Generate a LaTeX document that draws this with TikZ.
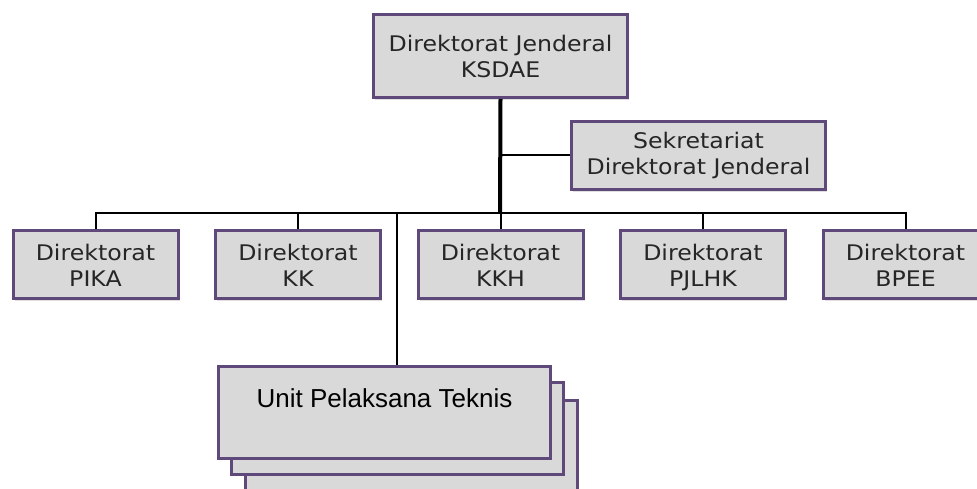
\documentclass[tikz,border=0pt]{standalone}
\usepackage{fontspec}
\usetikzlibrary{positioning, shadows}
\usepackage{xcolor}
\newfontfamily\orgfont[FakeStretch=1.1]{DejaVu Sans}
\newfontfamily\uptfont{Liberation Sans}
\definecolor{orgpurple}{HTML}{5F497A}
\definecolor{orgfill}{HTML}{D9D9D9}

\begin{document}
\begin{tikzpicture}[
    x=1pt, y=-1pt,
    every node/.style={font=\orgfont\fontsize{21.5pt}{26pt}\selectfont},
    unitbox/.style={
        rectangle, draw=orgpurple, fill=orgfill, line width=3pt,
        inner sep=0pt, align=center, text=black!85,
        drop shadow={opacity=0.25, shadow xshift=1.5pt, shadow yshift=-2.5pt},
    },
    dirbox/.style={unitbox, minimum width=165pt, minimum height=68pt,
        text height=45pt, text depth=2pt},
    topbox/.style={unitbox, minimum width=254pt},
    stackbox/.style={
        rectangle, draw=orgpurple, fill=orgfill, line width=3pt,
        minimum width=332pt, minimum height=92pt, inner sep=0pt,
        font=\uptfont\fontsize{26pt}{30pt}\selectfont,
    },
    trunk/.style={line width=4pt},
    link/.style={line width=2pt},
]
\useasboundingbox (0,0) rectangle (977,489);
\clip (0,0) rectangle (977,489);

% Top: director general and secretariat
\node[topbox, minimum height=83pt] (dirjen) at (500.5,56)
    {Direktorat Jenderal\\KSDAE};
\node[topbox, minimum height=68pt] (setdit) at (698.5,155.5)
    {Sekretariat\\Direktorat Jenderal};

% Row of directorates
\node[dirbox, below=130pt of dirjen] (kkh) {Direktorat\\KKH};
\node[dirbox, left=34.5pt of kkh] (kk) {Direktorat\\KK};
\node[dirbox, left=34.5pt of kk] (pika) {Direktorat\\PIKA};
\node[dirbox, right=34.5pt of kkh] (pjlhk) {Direktorat\\PJLHK};
\node[dirbox, right=34.5pt of pjlhk] (bpee) {Direktorat\\BPEE};

% Stack of technical units (back to front)
\node[stackbox] (upt3) at (411.5,446) {};
\node[stackbox] (upt2) at (397,428) {};
\node[stackbox, text depth=28pt] (upt) at (384.5,412.5)
    {Unit Pelaksana Teknis};

\coordinate (bar) at (500,213);

% --- Connectors ---
\draw[trunk] (dirjen.south) -- (bar);
\draw[link] (dirjen.south |- setdit.west) -- (setdit.west);
\draw[link] (pika.north) -- (pika.north |- bar) -- (bpee.north |- bar)
    -- (bpee.north);
\foreach \d in {kk, kkh, pjlhk}
    \draw[link] (\d.north |- bar) -- (\d.north);
\draw[link] (upt2.north |- bar) -- (upt2.north |- upt.north);

\end{tikzpicture}
\end{document}
